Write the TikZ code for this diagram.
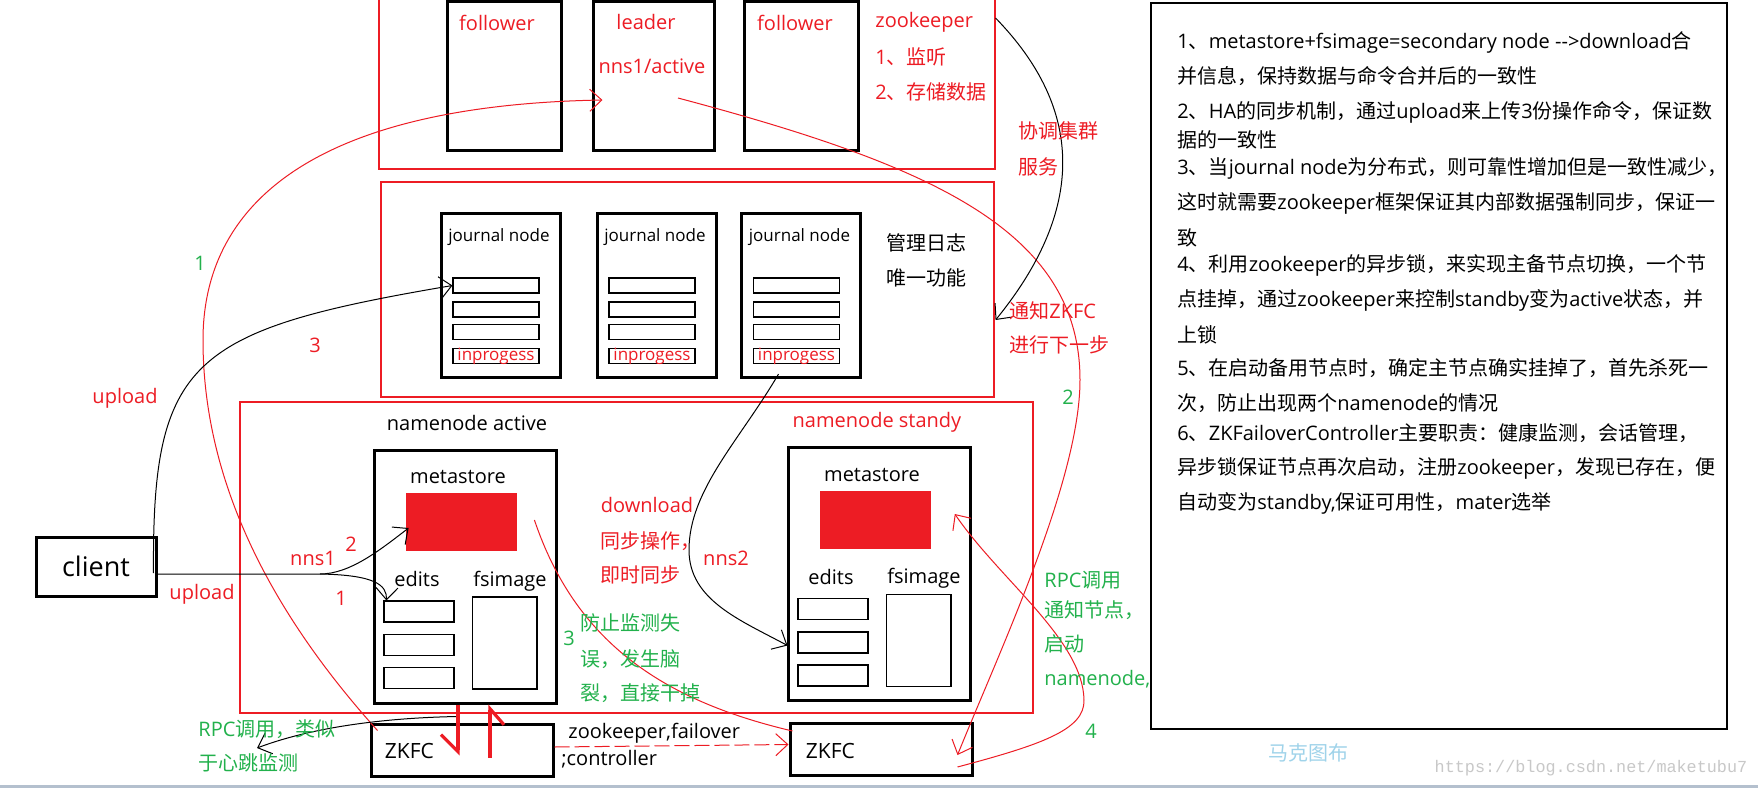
\documentclass[tikz,border=0pt]{standalone}
\usepackage{fontspec}
\setmainfont{Open Sans}
\newfontfamily\zhfam{Noto Sans CJK SC}
\newfontfamily\urlfam{Liberation Mono}
\usetikzlibrary{arrows.meta,positioning,calc}

% CJK runs are set in Noto Sans CJK SC, everything else in Open Sans
\XeTeXinterchartokenstate=1
\makeatletter
\count@="4E00
\loop
  \XeTeXcharclass\count@=1
  \advance\count@ by 1
\ifnum\count@<"A000 \repeat
\makeatother
\XeTeXcharclass"3001=3
\XeTeXcharclass"FF0C=3
\XeTeXcharclass"FF1A=3
\XeTeXinterchartoks 0 1 = {\zhfam}
\XeTeXinterchartoks 0 3 = {\zhfam}
\XeTeXinterchartoks 4095 1 = {\zhfam}
\XeTeXinterchartoks 4095 3 = {\zhfam}
\XeTeXinterchartoks 1 0 = {\rmfamily}
\XeTeXinterchartoks 3 0 = {\rmfamily}

\definecolor{pred}{HTML}{ED1C24}
\definecolor{pgreen}{HTML}{22B14C}
\definecolor{markblue}{HTML}{9FD3EA}
\definecolor{urlgray}{HTML}{C8C8C8}
\definecolor{barblue}{HTML}{B4C0CE}

\begin{document}
\begin{tikzpicture}[
  x=0.5pt, y=-0.5pt,
  >={Straight Barb[length=6pt,width=11pt]},
  every node/.style={inner sep=0pt, font=\fontsize{10}{12}\selectfont},
  frame/.style={draw=pred, line width=0.55pt},
  box/.style={draw, line width=1.5pt},
  slot/.style={draw, line width=0.55pt, minimum width=43pt, minimum height=7.5pt},
  ipslot/.style={slot, text=pred, font=\fontsize{8.5}{10}\selectfont, text height=5.5pt, text depth=1.5pt},
  edit/.style={draw, line width=0.55pt, minimum width=35pt, minimum height=10.5pt},
  rtext/.style={text=pred},
  gtext/.style={text=pgreen},
  wire/.style={line width=0.5pt},
  redwire/.style={draw=pred, line width=0.5pt},
  fat/.style={draw=pred, line width=1.6pt}
]
\useasboundingbox (0,0) rectangle (1758,788);
\fill[white] (0,0) rectangle (1758,788);

% zookeeper cluster
\node[frame, minimum width=308pt, minimum height=87pt] (zkarea) at (687,82) {};
\node[box, minimum width=57pt, minimum height=74.5pt] (fol1) at (504,76) {};
\node[box, minimum width=60.5pt, minimum height=74.5pt] (lead) at (653.5,76) {};
\node[box, minimum width=57pt, minimum height=74.5pt] (fol2) at (801,76) {};
\node[rtext] (t fol1) at (497,23) {follower};
\node[rtext] (t lead) at (646,22) {leader};
\node[rtext] (t nns1) at (652,66) {nns1/active};
\node[rtext] (t fol2) at (795,23) {follower};
\node[rtext, anchor=west] (t zk) at (875,22) {zookeeper};
\node[rtext, below=17.5pt of t zk.west, anchor=west] (t zk1) {1、监听};
\node[rtext, below=17.5pt of t zk1.west, anchor=west] (t zk2) {2、存储数据};

% journal nodes
\node[frame, minimum width=306.5pt, minimum height=107.5pt] (jnarea) at (687.5,289.5) {};
\foreach \j/\cx in {1/500.5, 2/656.5, 3/801}{
  \node[box, minimum width=59.5pt, minimum height=82pt] (jn\j) at (\cx,295) {};
  \node[font=\fontsize{8.5}{10}\selectfont] (jn\j-t) at (\cx-1.5,237) {journal node};
  \node[slot] (jn\j-r1) at (\cx-4.5,285.5) {};
  \node[slot] (jn\j-r2) at (\cx-4.5,309.5) {};
  \node[slot] (jn\j-r3) at (\cx-4.5,332) {};
  \node[ipslot] (jn\j-ip) at (\cx-4.5,356) {inprogess};
}
\node[anchor=west] (t log) at (886,243) {管理日志};
\node[below=17.5pt of t log.west, anchor=west] (t only) {唯一功能};

% namenodes
\node[frame, minimum width=396.5pt, minimum height=155.5pt] (nnarea) at (636.5,557.5) {};
\node (t act) at (467,423) {namenode active};
\node[rtext] (t sby) at (877,422) {namenode standy};
\foreach \nm/\cx/\cy in {act/465/576.5, sby/879/574}{
  \node[box, minimum width=91pt, minimum height=126.5pt] (\nm) at (\cx,\cy) {};
  \node (\nm-meta) at (\cx-7,\cy-99.5) {metastore};
  \node[fill=pred, minimum width=55.5pt, minimum height=29pt] (\nm-fill) at (\cx-3.5,\cy-54.5) {};
  \node (\nm-edits) at (\cx-48,\cy+2.5) {edits};
  \node (\nm-fsi) at (\cx+45,\cy+4.5) {fsimage};
  \node[edit] (\nm-e1) at (\cx-46,\cy+35) {};
  \node[edit] (\nm-e2) at (\cx-46,\cy+68.5) {};
  \node[edit] (\nm-e3) at (\cx-46,\cy+101.5) {};
  \node[draw, line width=0.55pt, minimum width=32.25pt, minimum height=46pt] (\nm-img) at (\cx+39.75,\cy+66.5) {};
}

% failover controllers
\node[box, minimum width=91pt, minimum height=26pt] (zkfc1) at (462,750) {};
\node[box, minimum width=91pt, minimum height=26pt] (zkfc2) at (881,749.5) {};
\node[anchor=west, font=\fontsize{10.5}{12}\selectfont] (zkfc1 t) at ($(zkfc1.west)+(15,1)$) {ZKFC};
\node[anchor=west, font=\fontsize{10.5}{12}\selectfont] (zkfc2 t) at ($(zkfc2.west)+(17,1.5)$) {ZKFC};
\node[anchor=west] (t zkf) at (568,733) {zookeeper,failover};
\node[anchor=west] (t ctl) at (561,759) {;controller};

% client
\node[box, minimum width=60pt, minimum height=29.5pt, font=\fontsize{13.5}{15}\selectfont] (client) at (96,566.5) {client};

% connectors
\draw[redwire, ->] ($(zkfc1.north west)+(8,8)$) .. controls (260,600) and (203,470) .. (203,340)
  .. controls (203,200) and (320,105) .. ($(lead.west)+(11,24)$);
\draw[redwire, ->] ($(lead.center)+(24.5,22)$) .. controls (930,165) and (1080,230) .. (1080,380)
  .. controls (1080,480) and (1000,650) .. ($(zkfc2.east)+(-16,5.5)$);
\draw[redwire] ($(act-fill.east)+(17,-2)$) .. controls (575,640) and (660,700) .. ($(zkfc2.north west)+(4,9)$);
\draw[redwire, ->] ($(zkfc2.east)+(-16,17.5)$) .. controls (1040,745) and (1085,730) .. (1084,700)
  .. controls (1083,640) and (1000,580) .. ($(sby-fill.east)+(23.4,-5.5)$);
\draw[wire, ->] ($(zkarea.east)+(0,-64)$) .. controls (1085,110) and (1085,210) .. ($(jnarea.east)+(1,30.5)$);
\draw[wire, ->] ($(jn3-ip.south)+(-18,10)$) .. controls (740,440) and (689,490) .. (689,550)
  .. controls (689,600) and (740,620) .. ($(sby-e2.west)+(-10,3)$);
\draw[wire, ->] ($(client.east)+(-4,6.5)$) .. controls (152,360) and (190,330) .. (jn1-r1.west);
\coordinate (fork) at (320,574);
\draw[wire, ->] ($(client.east)+(0,7.5)$) -- (fork) .. controls (375,575) and (387,585) .. ($(act-e1.north west)+(3,0)$);
\draw[wire, ->] (fork) .. controls (350,574) and (380,550) .. ($(act-fill.west)+(3,6)$);
\coordinate (rpctip) at (257,748);
\draw[wire, ->] ($(zkfc1.north)+(-5,-6)$) .. controls (380,718) and (310,728) .. (rpctip);
\draw[redwire, dash pattern=on 7.5pt off 2.5pt, ->] ([yshift=1.5pt]zkfc1.east) -- ([yshift=2.5pt]zkfc2.west);
\draw[fat, -{Straight Barb[right, length=8.5pt, width=17pt]}] ($(act.south)+(-7,0)$) -- ($(zkfc1.north)+(-4,33)$);
\draw[fat, -{Straight Barb[right, length=8pt, width=14pt]}] ($(zkfc1.north)+(28,35)$) -- ($(act.south)+(25,0)$);

% connector labels
\node[gtext] (n1) at (200,263) {1};
\node[rtext] (t up1) at (125,398) {upload};
\node[rtext] (n3r) at (315,345) {3};
\node[rtext] (t up2) at (202,594) {upload};
\node[rtext] (n1r) at (341,598) {1};
\node[rtext] (t nns1b) at (313,558) {nns1};
\node[rtext] (n2r) at (351,544) {2};
\node[rtext, anchor=west] (t coord) at (1018,131) {协调集群};
\node[rtext, below=18pt of t coord.west, anchor=west] (t serv) {服务};
\node[rtext, anchor=west] (t tell) at (1009,311) {通知ZKFC};
\node[rtext, below=17pt of t tell.west, anchor=west] (t next) {进行下一步};
\node[gtext] (n2) at (1068,397) {2};
\node[rtext] (t down) at (647,505) {download};
\node[rtext, anchor=west] (t sync) at (600,541) {同步操作，};
\node[rtext, below=17pt of t sync.west, anchor=west] (t now) {即时同步};
\node[rtext] (t nns2) at (726,558) {nns2};
\node[gtext] (n3) at (569,638) {3};
\node[gtext, anchor=west] (t pr1) at (580,623) {防止监测失};
\node[gtext, below=18pt of t pr1.west, anchor=west] (t pr2) {误，发生脑};
\node[gtext, below=17pt of t pr2.west, anchor=west] (t pr3) {裂，直接干掉};
\node[gtext, anchor=west] (t rpc1) at (1044,580) {RPC调用};
\node[gtext, below=15pt of t rpc1.west, anchor=west] (t rpc2) {通知节点，};
\node[gtext, below=17pt of t rpc2.west, anchor=west] (t rpc3) {启动};
\node[gtext, below=17.5pt of t rpc3.west, anchor=west] (t rpc4) {namenode,};
\node[gtext] (n4) at (1091,731) {4};
\node[gtext, anchor=west] (t hb1) at (198,729) {RPC调用，类似};
\node[gtext, below=17pt of t hb1.west, anchor=west] (t hb2) {于心跳监测};

% notes
\node[draw, line width=0.6pt, minimum width=288pt, minimum height=363pt] (note) at (1439,366) {};
\foreach \y/\s in {
  42/{1、metastore+fsimage=secondary node -{}->download合},
  76/{并信息，保持数据与命令合并后的一致性},
  112/{2、HA的同步机制，通过upload来上传3份操作命令，保证数},
  140/{据的一致性},
  168/{3、当journal node为分布式，则可靠性增加但是一致性减少，},
  203/{这时就需要zookeeper框架保证其内部数据强制同步，保证一},
  238/{致},
  265/{4、利用zookeeper的异步锁，来实现主备节点切换，一个节},
  300/{点挂掉，通过zookeeper来控制standby变为active状态，并},
  335/{上锁},
  368/{5、在启动备用节点时，确定主节点确实挂掉了，首先杀死一},
  403/{次，防止出现两个namenode的情况},
  433/{6、ZKFailoverController主要职责：健康监测，会话管理，},
  468/{异步锁保证节点再次启动，注册zookeeper，发现已存在，便},
  503/{自动变为standby,保证可用性，mater选举}}
  \node[anchor=west] at (1177,\y) {\s};

% watermark
\node[text=markblue] (mark) at (1308,753) {马克图布};
\node[text=urlgray, font=\urlfam\fontsize{8.4}{10}\selectfont] (url) at (1591,768) {https://blog.csdn.net/maketubu7};
\fill[barblue] (0,785) rectangle (1758,788);
\end{tikzpicture}
\end{document}
